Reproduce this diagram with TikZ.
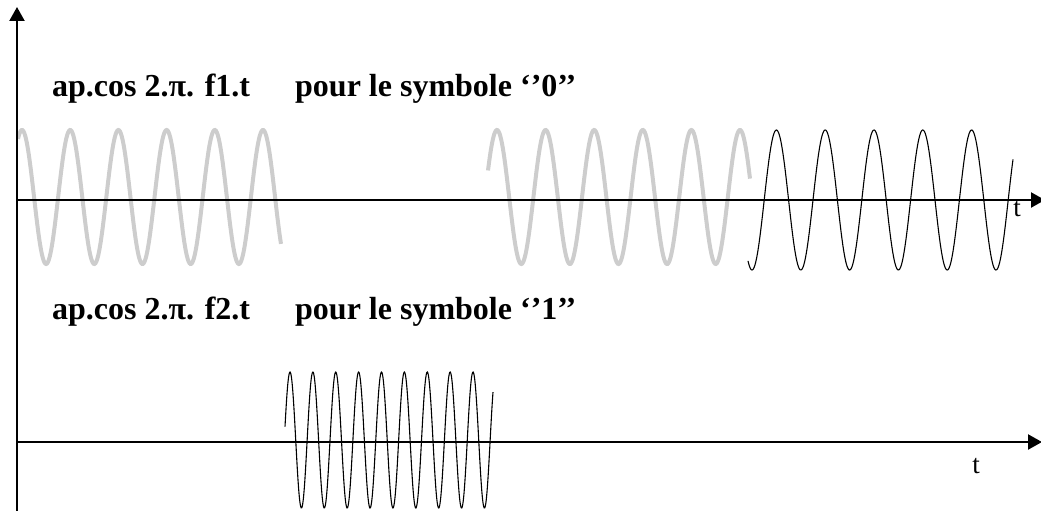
\documentclass[tikz,border=0pt]{standalone}
\usepackage{fontspec}
\setmainfont{Liberation Serif}
\usetikzlibrary{arrows.meta}
\definecolor{wavegray}{RGB}{205,205,205}
\tikzset{
  axisline/.style={line width=2.2pt,-{Triangle[width=15pt,length=14pt]}},
  graywave/.style={wavegray,line width=4pt},
  blackwave/.style={black,line width=1.1pt},
  label/.style={inner sep=0pt,anchor=base west,font=\bfseries\fontsize{32}{38}\selectfont},
  tlabel/.style={inner sep=0pt,font=\fontsize{27}{32}\selectfont}
}
\begin{document}
\begin{tikzpicture}[x=1pt,y=-1pt]
\useasboundingbox (0,0) rectangle (1041,511);
% waves
\draw[graywave] plot[domain=18:281,samples=300,smooth] (\x,{197-67*cos((\x-22)/48.2*360)});
\draw[graywave] plot[domain=488:750,samples=300,smooth] (\x,{197-67*cos((\x-497)/48.6*360)});
\draw[blackwave] plot[domain=748:1013,samples=400,smooth] (\x,{200+70*cos((\x-752)/48.8*360)});
\draw[blackwave] plot[domain=285:493,samples=400,smooth] (\x,{440-68*cos((\x-290)/22.875*360)});
% axes
\coordinate (vb) at (17,514);
\coordinate (vt) at (17,7);
\coordinate (a1s) at (17,200);
\coordinate (a1e) at (1045,200);
\coordinate (a2s) at (17,442);
\coordinate (a2e) at (1042,442);
\draw[axisline] (vb) -- (vt);
\draw[axisline] (a1s) -- (a1e);
\draw[axisline] (a2s) -- (a2e);
% labels
\node[label] (t1a) at (52,96) {ap.cos 2.π. f1.t};
\node[label] (t1b) at (295,96) {pour le symbole ‘’0’’};
\node[label] (t2a) at (52,319) {ap.cos 2.π. f2.t};
\node[label] (t2b) at (295,319) {pour le symbole ‘’1’’};
\node[tlabel] (tt1) at (1017,209) {t};
\node[tlabel] (tt2) at (976,466) {t};
\end{tikzpicture}
\end{document}
